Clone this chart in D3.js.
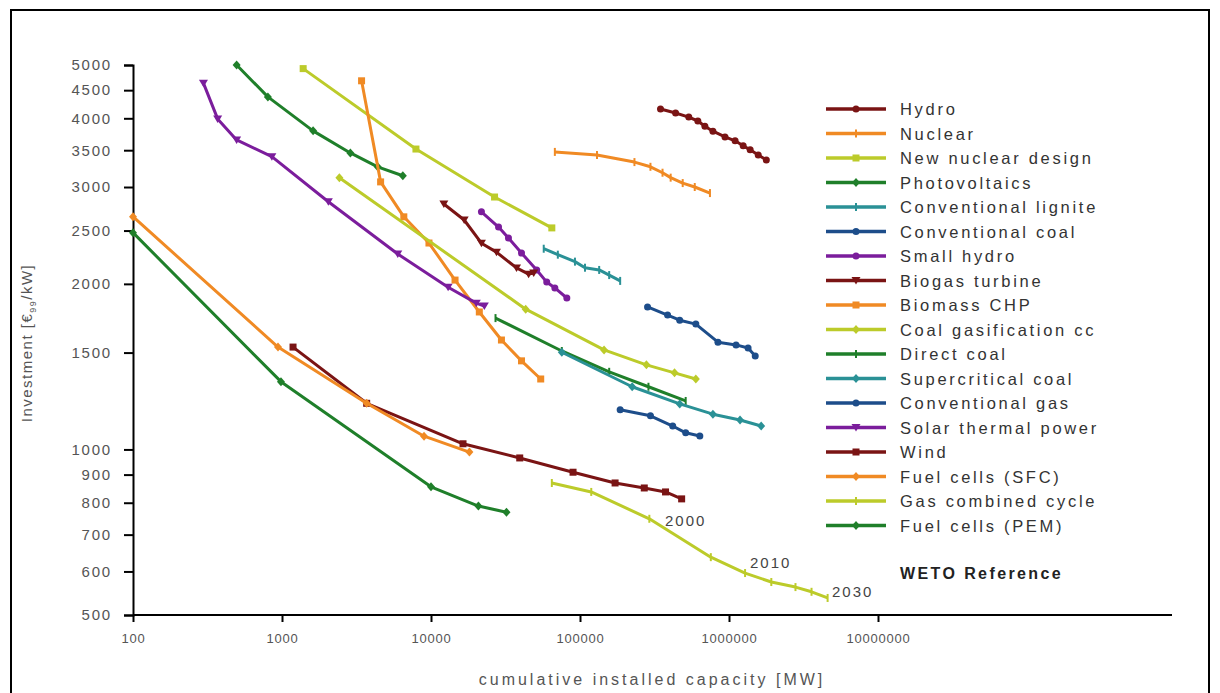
<!DOCTYPE html>
<html>
<head>
<meta charset="utf-8">
<script src="https://cdn.jsdelivr.net/npm/d3@7"></script>
<style>
  body { margin: 0; background: #fff; }
  svg { display: block; font-family: "Liberation Sans", Arial, sans-serif; }
</style>
</head>
<body>
<svg width="1220" height="693"></svg>
<script>
// values: [cumulative MW, EUR99/kW]
const hydro = [[347000,4160],[438000,4090],[537000,4020],[618000,3955],[689000,3870],[780000,3790],[940000,3700],[1099000,3640],[1245000,3565],[1387000,3505],[1571000,3430],[1780000,3360]];
const nuclear = [[67800,3475],[130000,3430],[232000,3330],[297000,3265],[358000,3185],[406000,3120],[489000,3050],[589000,3000],[745000,2925]];
const newNuclear = [[1387,4925],[7925,3517],[26700,2877],[64700,2528]];
const photovoltaics = [[496,5000],[804,4375],[1617,3795],[2876,3460],[4385,3265],[6470,3145]];
const lignite = [[57100,2317],[71000,2260],[92500,2195],[108000,2140],[134500,2120],[157000,2075],[186000,2025]];
const convCoal = [[284000,1816],[387000,1755],[467000,1718],[599000,1690],[843000,1567],[1115000,1549],[1343000,1529],[1500000,1479]];
const smallHydro = [[21800,2704],[28400,2537],[33100,2423],[40500,2275],[51200,2120],[59800,2015],[67800,1966],[81600,1885]];
const biogas = [[12200,2794],[16700,2613],[21800,2371],[27500,2284],[37500,2138],[45200,2083],[48900,2093]];
const biomass = [[3420,4680],[4590,3065],[6570,2648],[9690,2373],[14500,2032],[21100,1778],[29700,1581],[40500,1449],[54500,1343]];
const coalGas = [[2427,3119],[43200,1799],[145000,1517],[279000,1425],[431000,1378],[599000,1343]];
const directCoal = [[27100,1733],[75500,1510],[157000,1384],[288000,1300],[512000,1225]];
const supercritical = [[75500,1502],[224000,1300],[467000,1210],[780000,1159],[1186000,1131],[1644000,1103]];
const convGas = [[186000,1181],[297000,1151],[419000,1103],[512000,1072],[637000,1058]];
const solarThermal = [[297,4634],[370,3990],[496,3654],[855,3406],[2047,2820],[5985,2266],[13030,1972],[20140,1845],[22800,1823]];
const wind = [[1186,1535],[3700,1213],[16400,1024],[39400,965],[89800,909],[172000,869],[270000,851],[375000,837],[481000,813]];
const fuelSFC = [[100,2650],[940,1535],[3700,1213],[8980,1057],[18100,989]];
const gasCC = [[64700,869],[119000,837],[292000,748],[755000,637],[1282000,596],[1923000,574],[2794000,562],[3580000,551],[4590000,537]];
const fuelPEM = [[100,2478],[984,1328],[10000,855],[20800,789],[32100,769]];

const names = ["Hydro","Nuclear","New nuclear design","Photovoltaics","Conventional lignite","Conventional coal","Small hydro","Biogas turbine","Biomass CHP","Coal gasification cc","Direct coal","Supercritical coal","Conventional gas","Solar thermal power","Wind","Fuel cells (SFC)","Gas combined cycle","Fuel cells (PEM)"];
const seriesData = [hydro,nuclear,newNuclear,photovoltaics,lignite,convCoal,smallHydro,biogas,biomass,coalGas,directCoal,supercritical,convGas,solarThermal,wind,fuelSFC,gasCC,fuelPEM];
const colors = ["#7a1414","#f08a24","#bccb2a","#1f7f2a","#2a9196","#1d4d8a","#7b1d9c","#7a1414","#f08a24","#bccb2a","#1f7f2a","#2a9196","#1d4d8a","#7b1d9c","#7a1414","#f08a24","#bccb2a","#1f7f2a"];
const markers = ["circle","plus","square","diamond","plus","circle","circle","triangle","square","diamond","plus","diamond","circle","triangle","square","diamond","plus","diamond"];

const xTicks = [100,1000,10000,100000,1000000,10000000];
const yTicks = [500,600,700,800,900,1000,1500,2000,2500,3000,3500,4000,4500,5000];
// year labels placed by their lower-left corner: [text, MW, EUR/kW]
const yearLabels = [["2000",372000,726],["2010",1384000,609],["2030",4910000,539]];

const svg = d3.select("svg");

const xScale = d3.scaleLog().domain([100, 1e7]).range([133, 878]);
const yScale = d3.scaleLog().domain([500, 5000]).range([615, 65]);
const xEnd = 1172;

// outer frame
svg.append("rect")
    .attr("x", 11).attr("y", 10)
    .attr("width", 1198).attr("height", 700)
    .attr("fill", "none")
    .attr("stroke", "#000")
    .attr("stroke-width", 2);

// axes
const yAxis = svg.append("g")
    .attr("transform", "translate(133,0)")
    .call(d3.axisLeft(yScale).tickValues(yTicks).tickFormat(d3.format("d")).tickSize(9).tickPadding(12));
const xAxis = svg.append("g")
    .attr("transform", "translate(0,615)")
    .call(d3.axisBottom(xScale).tickValues(xTicks).tickFormat(d3.format("d")).tickSize(7).tickPadding(12));

svg.append("line")
    .attr("x1", 133).attr("x2", xEnd)
    .attr("y1", 615).attr("y2", 615)
    .attr("stroke", "#000").attr("stroke-width", 2);

[yAxis, xAxis].forEach(g => {
    g.select(".domain").attr("stroke", "#000").attr("stroke-width", 2);
    g.selectAll(".tick line").attr("stroke", "#000").attr("stroke-width", 2);
    g.selectAll(".tick text")
        .attr("fill", "#555")
        .style("font-family", "'Liberation Sans', Arial, sans-serif");
});
yAxis.selectAll(".tick text").style("font-size", "15px").style("letter-spacing", "1.8px");
xAxis.selectAll(".tick text").style("font-size", "13px").style("letter-spacing", "0.8px");
xAxis.select(".domain").remove();

// axis titles
const yTitle = svg.append("text")
    .attr("transform", "translate(32,343) rotate(-90)")
    .attr("text-anchor", "middle")
    .attr("fill", "#555")
    .style("font-size", "15px")
    .style("letter-spacing", "1.5px");
yTitle.append("tspan").text("Investment [€");
yTitle.append("tspan").attr("dy", 4).style("font-size", "9px").text("99");
yTitle.append("tspan").attr("dy", -4).text("/kW]");

svg.append("text")
    .attr("x", 652).attr("y", 685)
    .attr("text-anchor", "middle")
    .attr("fill", "#555")
    .style("font-size", "16px")
    .style("letter-spacing", "3px")
    .text("cumulative installed capacity [MW]");

const line = d3.line()
    .x(d => xScale(d[0]))
    .y(d => yScale(d[1]));

function drawMarker(g, type, x, y, color) {
    if (type === "circle") {
        g.append("circle").attr("cx", x).attr("cy", y).attr("r", 3.5).attr("fill", color);
    } else if (type === "square") {
        g.append("rect").attr("x", x - 3.5).attr("y", y - 3.5).attr("width", 7).attr("height", 7).attr("fill", color);
    } else if (type === "diamond") {
        g.append("path").attr("d", `M${x},${y-4.5}L${x+4},${y}L${x},${y+4.5}L${x-4},${y}Z`).attr("fill", color);
    } else if (type === "triangle") {
        g.append("path").attr("d", `M${x-4.5},${y-3.5}L${x+4.5},${y-3.5}L${x},${y+4}Z`).attr("fill", color);
    } else {
        g.append("path").attr("d", `M${x},${y-4}V${y+4}`).attr("stroke", color).attr("stroke-width", 2);
    }
}

// series
seriesData.forEach((data, i) => {
    const g = svg.append("g");
    g.append("path")
        .datum(data)
        .attr("d", line)
        .attr("fill", "none")
        .attr("stroke", colors[i])
        .attr("stroke-width", 3)
        .attr("stroke-linejoin", "round");
    data.forEach(d => drawMarker(g, markers[i], xScale(d[0]), yScale(d[1]), colors[i]));
});

// year labels on gas combined cycle
svg.selectAll(".year")
    .data(yearLabels)
    .enter().append("text")
    .attr("class", "year")
    .attr("x", d => xScale(d[1]))
    .attr("y", d => yScale(d[2]))
    .attr("fill", "#444")
    .style("font-size", "15px")
    .style("letter-spacing", "2px")
    .text(d => d[0]);

// legend
const legend = svg.append("g").attr("transform", "translate(826,109)");
names.forEach((name, i) => {
    const row = legend.append("g").attr("transform", `translate(0,${i * 24.5})`);
    row.append("line")
        .attr("x1", 0).attr("x2", 60)
        .attr("stroke", colors[i]).attr("stroke-width", 3.5);
    drawMarker(row, markers[i], 30, 0, colors[i]);
    row.append("text")
        .attr("x", 74).attr("y", 6)
        .attr("fill", "#333")
        .style("font-size", "16.5px")
        .style("letter-spacing", "2.7px")
        .text(name);
});
svg.append("text")
    .attr("x", 900).attr("y", 579)
    .attr("fill", "#222")
    .style("font-size", "16px")
    .style("font-weight", "bold")
    .style("letter-spacing", "2.4px")
    .text("WETO Reference");
</script>
</body>
</html>
